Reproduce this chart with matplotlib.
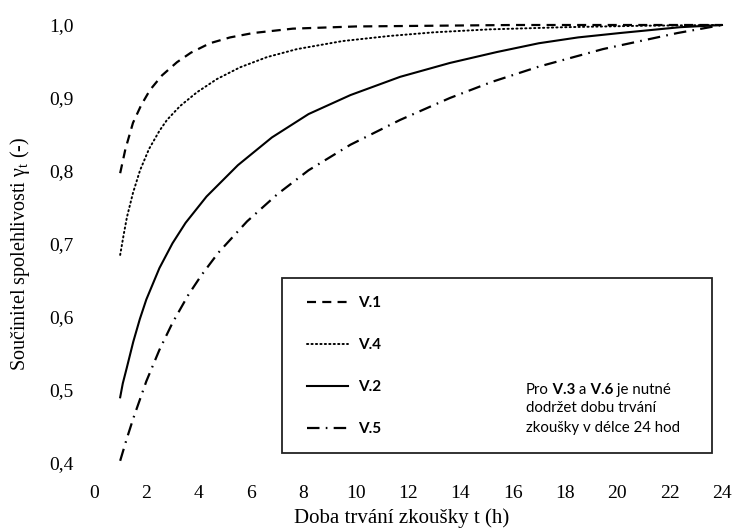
import matplotlib
matplotlib.use('Agg')
import matplotlib.pyplot as plt
from matplotlib.patches import Rectangle

# hodnoty (doba t v h, soucinitel gamma_t)
t_v1 = [1.0, 1.2, 1.49, 1.8, 2.14, 2.6, 3.17, 3.7, 4.43, 5.2, 6.08, 7.6, 10, 13, 16, 24]
g_v1 = [0.797, 0.830, 0.866, 0.890, 0.911, 0.931, 0.949, 0.962, 0.975, 0.983, 0.989, 0.995,
        0.998, 0.999, 1.0, 1.0]

t_v4 = [1.0, 1.13, 1.26, 1.49, 1.76, 2.1, 2.5, 2.79, 3.29, 3.94, 4.7, 5.58, 6.61, 7.76,
        9.5, 11.3, 13, 15.1, 18, 21, 24]
g_v4 = [0.685, 0.712, 0.737, 0.770, 0.801, 0.830, 0.855, 0.870, 0.889, 0.908, 0.926, 0.942,
        0.956, 0.967, 0.978, 0.985, 0.990, 0.994, 0.997, 0.999, 1.0]

t_v2 = [1.0, 1.1, 1.25, 1.5, 1.75, 2.0, 2.5, 3.0, 3.5, 4.3, 5.5, 6.8, 8.2, 9.8, 11.7, 13.6,
        15.4, 17.0, 18.5, 20.1, 22.4, 24]
g_v2 = [0.490, 0.509, 0.530, 0.566, 0.597, 0.624, 0.667, 0.701, 0.729, 0.765, 0.808, 0.846,
        0.878, 0.904, 0.929, 0.948, 0.963, 0.975, 0.983, 0.989, 0.997, 1.0]

t_v5 = [1.0, 1.25, 1.5, 2.0, 2.5, 3.0, 3.6, 4.1, 4.75, 5.85, 7.0, 8.2, 9.8, 11.7, 13.6,
        15.2, 17.0, 19.45, 22.3, 24]
g_v5 = [0.403, 0.433, 0.461, 0.512, 0.555, 0.592, 0.630, 0.657, 0.688, 0.731, 0.768, 0.801,
        0.836, 0.870, 0.900, 0.922, 0.943, 0.967, 0.989, 1.0]

x_ticks = list(range(0, 25, 2))
y_ticks = [0.4, 0.5, 0.6, 0.7, 0.8, 0.9, 1.0]
y_tick_labels = ['0,4', '0,5', '0,6', '0,7', '0,8', '0,9', '1,0']

serif = 'Liberation Serif'
sans = 'Lato'
plt.rcParams['lines.scale_dashes'] = False
plt.rcParams['mathtext.fontset'] = 'custom'
plt.rcParams['mathtext.rm'] = serif

fig, ax = plt.subplots(figsize=(7.34, 5.30), dpi=100)
fig.subplots_adjust(left=94/734, right=722/734, bottom=1-463/530, top=1-25/530)

l1, = ax.plot(t_v1, g_v1, color='black', lw=1.6, linestyle=(0, (6.5, 4.5)), clip_on=False)
l4, = ax.plot(t_v4, g_v4, color='black', lw=1.4, linestyle=(0, (0.9, 2.3)),
              dash_capstyle='round', clip_on=False)
l2, = ax.plot(t_v2, g_v2, color='black', lw=1.5, clip_on=False)
l5, = ax.plot(t_v5, g_v5, color='black', lw=1.6, linestyle=(0, (9, 4.5, 1.2, 4.5)),
              clip_on=False)

ax.set_xlim(0, 24)
ax.set_ylim(0.4, 1.0)
ax.set_xticks(x_ticks)
ax.set_yticks(y_ticks)
ax.set_yticklabels(y_tick_labels)
for s in ax.spines.values():
    s.set_visible(False)
ax.tick_params(axis='both', length=0, labelsize=14)
ax.tick_params(axis='x', pad=15.5)
ax.tick_params(axis='y', pad=14.5)
for lab in ax.get_xticklabels() + ax.get_yticklabels():
    lab.set_family(serif)

ax.set_xlabel('Doba trvání zkoušky t (h)', family=serif, fontsize=15, va='top')
ax.xaxis.set_label_coords(0.49, -0.103)
ax.set_ylabel('Součinitel spolehlivosti γ$_{\\mathrm{t}}$ (-)', family=serif, fontsize=14.5,
              va='center')
ax.yaxis.set_label_coords(-0.118, 0.478)

# ramecek legendy
ax.add_patch(Rectangle((0.299, 0.023), 0.685, 0.399, transform=ax.transAxes,
                       fill=False, edgecolor='#222222', lw=1.3, clip_on=False))

ax.legend([l1, l4, l2, l5], ['V.1', 'V.4', 'V.2', 'V.5'], loc='upper left',
          bbox_to_anchor=(0.339, 0.381), frameon=False,
          prop=dict(family=sans, weight='bold', size=11),
          handlelength=2.68, handletextpad=0.65, labelspacing=1.84,
          borderpad=0, borderaxespad=0)

# poznamka v legende
parts = [('Pro', 'normal'), (' V.3', 'bold'), (' a', 'normal'), (' V.6', 'bold'),
         (' je nutné', 'normal')]
prev = None
for txt, w in parts:
    if prev is None:
        prev = ax.text(0.688, 0.150, txt, transform=ax.transAxes, family=sans,
                       weight=w, fontsize=10.8, va='bottom', ha='left')
    else:
        prev = ax.annotate(txt, xy=(1, 0), xycoords=prev, family=sans, weight=w,
                           fontsize=10.8, va='bottom', ha='left')
ax.text(0.688, 0.116, 'dodržet dobu trvání', transform=ax.transAxes, family=sans,
        fontsize=10.8, va='baseline', ha='left')
ax.text(0.688, 0.071, 'zkoušky v délce 24 hod', transform=ax.transAxes, family=sans,
        fontsize=10.8, va='baseline', ha='left')

fig.savefig('out.png', dpi=100)
